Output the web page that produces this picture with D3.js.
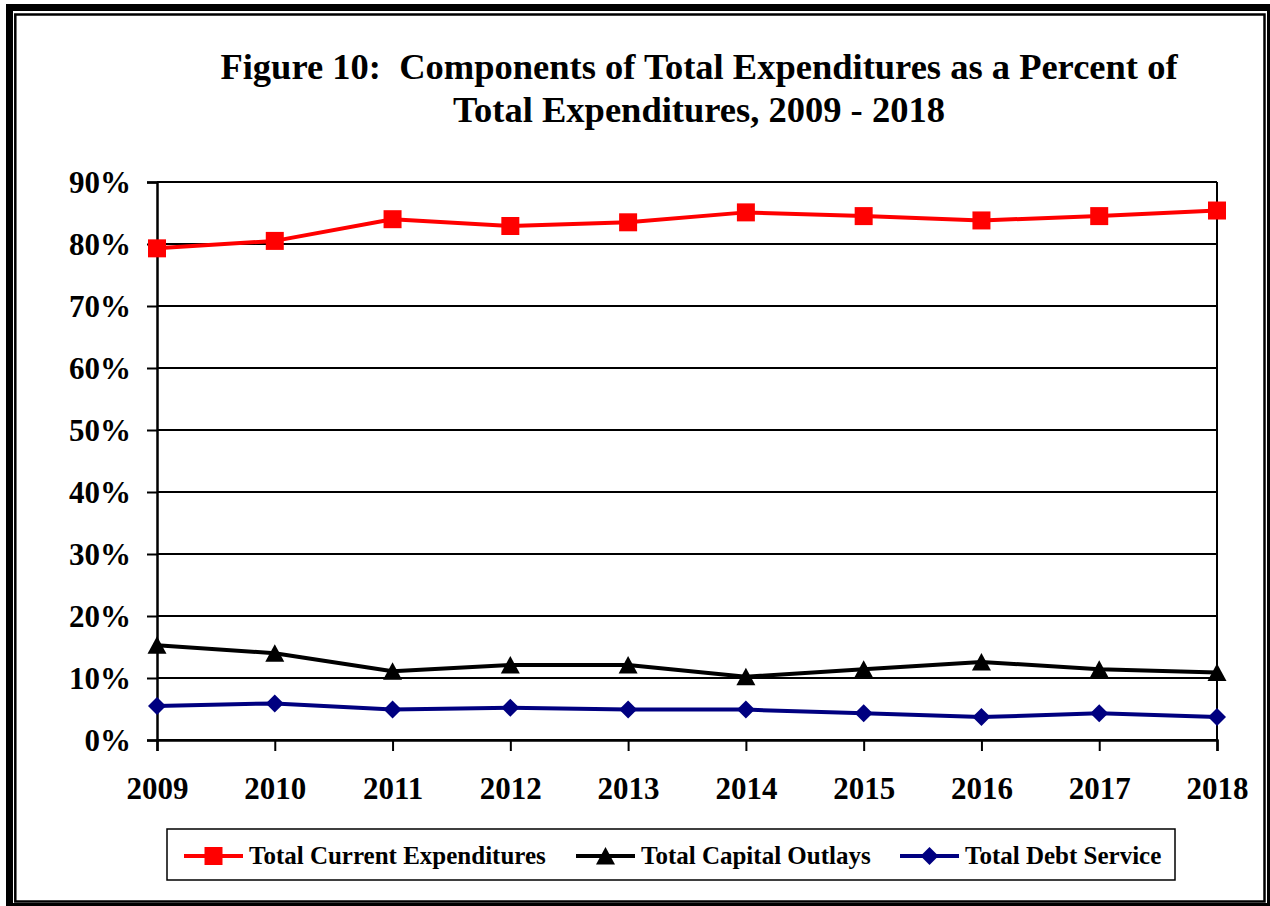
<!DOCTYPE html>
<html>
<head>
<meta charset="utf-8">
<script src="https://cdn.jsdelivr.net/npm/d3@7"></script>
<style>
  html, body { margin: 0; padding: 0; background: #fff; }
  svg { display: block; }
  text { font-family: "Liberation Serif", "Times New Roman", serif; font-weight: bold; fill: #000; }
</style>
</head>
<body>
<svg id="chart" width="1270" height="906"></svg>
<script>
const years = ["2009","2010","2011","2012","2013","2014","2015","2016","2017","2018"];
const currentExp = [79.3, 80.5, 84.0, 82.9, 83.5, 85.1, 84.5, 83.8, 84.5, 85.4];
const capitalOutlays = [15.3, 14.0, 11.1, 12.1, 12.1, 10.2, 11.4, 12.6, 11.4, 10.9];
const debtService = [5.5, 5.9, 4.9, 5.2, 4.9, 4.9, 4.3, 3.7, 4.3, 3.7];
const yTicks = [0, 10, 20, 30, 40, 50, 60, 70, 80, 90];
const seriesNames = ["Total Current Expenditures", "Total Capital Outlays", "Total Debt Service"];
const titleLines = ["Figure 10:\u00A0 Components of Total Expenditures as a Percent of", "Total Expenditures, 2009 - 2018"];

const svg = d3.select("#chart");

// outer double frame
svg.append("rect").attr("x", 9.5).attr("y", 7.5).attr("width", 1261).attr("height", 899)
  .attr("fill", "none").attr("stroke", "#000").attr("stroke-width", 7);
svg.append("rect").attr("x", 15.3).attr("y", 14.5).attr("width", 1249.2).attr("height", 887)
  .attr("fill", "none").attr("stroke", "#000").attr("stroke-width", 2.5);

// title
svg.append("g").selectAll("text").data(titleLines).join("text")
  .attr("x", 699).attr("y", (d, i) => 79 + i * 43)
  .attr("text-anchor", "middle").style("font-size", "36.5px").style("white-space", "pre")
  .text(d => d);

const x0 = 157, x1 = 1217, yTop = 182, yBot = 740;
const x = d3.scalePoint().domain(years).range([x0, x1]);
const y = d3.scaleLinear().domain([0, 90]).range([yBot, yTop]);

// gridlines
svg.append("g").selectAll("line").data(yTicks).join("line")
  .attr("x1", x0).attr("x2", x1).attr("y1", d => y(d)).attr("y2", d => y(d))
  .attr("stroke", "#000").attr("stroke-width", 2);
// right border
svg.append("line").attr("x1", x1).attr("x2", x1).attr("y1", yTop).attr("y2", yBot)
  .attr("stroke", "#000").attr("stroke-width", 2);

// y axis
const yAxis = d3.axisLeft(y).tickValues(yTicks).tickSize(10).tickPadding(16).tickFormat(d => d + "%");
const gy = svg.append("g").attr("transform", `translate(${x0},0)`).call(yAxis);
gy.attr("font-family", null);
gy.select(".domain").attr("stroke", "#000").attr("stroke-width", 2.5);
gy.selectAll(".tick line").attr("stroke", "#000").attr("stroke-width", 2);
gy.selectAll(".tick text").style("font-size", "31px").attr("dy", "0.35em");

// x axis
const xAxis = d3.axisBottom(x).tickSize(11).tickPadding(26);
const gx = svg.append("g").attr("transform", `translate(0,${yBot})`).call(xAxis);
gx.attr("font-family", null);
gx.select(".domain").attr("stroke", "#000").attr("stroke-width", 2.5);
gx.selectAll(".tick line").attr("stroke", "#000").attr("stroke-width", 2);
gx.selectAll(".tick text").style("font-size", "31px");

const series = [
  { name: seriesNames[0], values: currentExp, color: "#FF0000", shape: "square" },
  { name: seriesNames[1], values: capitalOutlays, color: "#000000", shape: "triangle" },
  { name: seriesNames[2], values: debtService, color: "#000080", shape: "diamond" }
];

function markerPath(shape) {
  if (shape === "square") return "M-9,-9H9V9H-9Z";
  if (shape === "triangle") return "M0,-9L9.5,8.5H-9.5Z";
  return "M0,-9L9,0L0,9L-9,0Z";
}

const line = d3.line().x((d, i) => x(years[i])).y(d => y(d));
series.forEach(s => {
  const g = svg.append("g");
  g.append("path").attr("d", line(s.values)).attr("fill", "none")
    .attr("stroke", s.color).attr("stroke-width", 4).attr("stroke-linejoin", "round");
  g.selectAll("path.m").data(s.values).join("path").attr("class", "m")
    .attr("transform", (d, i) => `translate(${x(years[i])},${y(d)})`)
    .attr("d", markerPath(s.shape)).attr("fill", s.color);
});

// legend
svg.append("rect").attr("x", 167).attr("y", 829).attr("width", 1008).attr("height", 51)
  .attr("fill", "#fff").attr("stroke", "#000").attr("stroke-width", 1.5);
const legX = [184, 576, 900];
series.forEach((s, i) => {
  const g = svg.append("g").attr("transform", `translate(${legX[i]},856)`);
  g.append("line").attr("x1", 0).attr("x2", 59).attr("stroke", s.color).attr("stroke-width", 4);
  g.append("path").attr("transform", "translate(29.5,0)").attr("d", markerPath(s.shape)).attr("fill", s.color);
  g.append("text").attr("x", 65).attr("y", 8).style("font-size", "25px").text(s.name);
});
</script>
</body>
</html>
